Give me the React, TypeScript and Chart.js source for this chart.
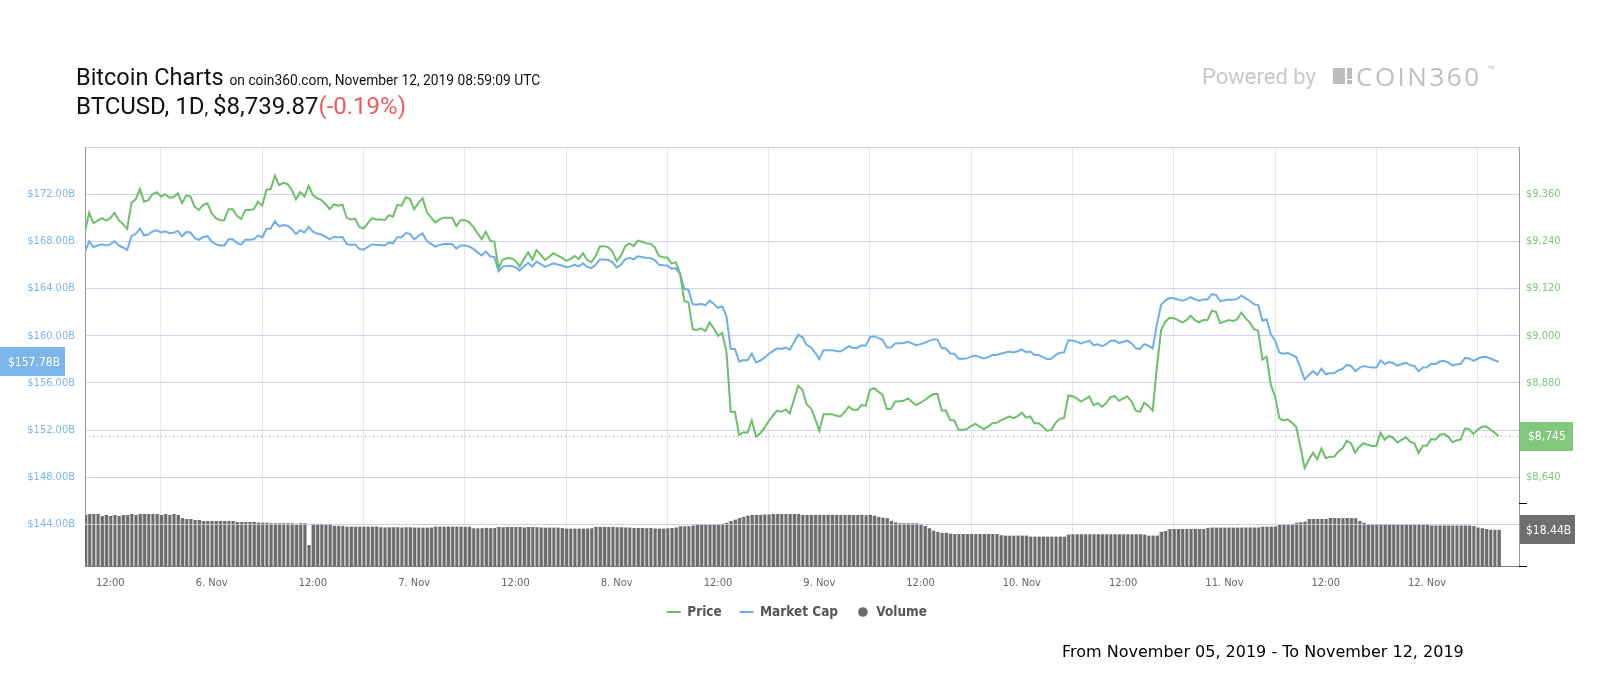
import React, { useEffect, useRef } from 'react';
import { Chart, registerables } from 'chart.js';

Chart.register(...registerables);

// ---- time axis (hours since 5 Nov 2019 00:00) ----
const START_HOUR = 9;
const STEP_HOURS = 0.5;
const X_MIN = 9;
const X_MAX = 178.9;
const X_TICKS = [12, 24, 36, 48, 60, 72, 84, 96, 108, 120, 132, 144, 156, 168];
const X_TICK_LABELS = ['12:00', '6. Nov', '12:00', '7. Nov', '12:00', '8. Nov', '12:00', '9. Nov', '12:00', '10. Nov', '12:00', '11. Nov', '12:00', '12. Nov'];

// ---- value axes ----
const CAP_TICKS = [144, 148, 152, 156, 160, 164, 168, 172, 176];
const CAP_TICK_LABELS = ['$144.00B', '$148.00B', '$152.00B', '$156.00B', '$160.00B', '$164.00B', '$168.00B', '$172.00B', ''];
const CAP_MIN = 140.48;
const CAP_MAX = 176;
const PRICE_TICKS = [8520, 8640, 8760, 8880, 9000, 9120, 9240, 9360, 9480];
const PRICE_TICK_LABELS = ['$8,520', '$8,640', '$8,760', '$8,880', '$9,000', '$9,120', '$9,240', '$9,360', ''];
const PRICE_MIN = 8415;
const PRICE_MAX = 9480;
const VOL_PANE_MAX = 32;      // top of the volume pane (billions)
const VOL_AXIS_MAX = 212.8;   // volume pane covers the lower part of the plot

// ---- series (30-minute samples) ----
const PRICE = [
  9265, 9313, 9286, 9293, 9299, 9293, 9299, 9313, 9294, 9284, 9272, 9338,
  9347, 9373, 9341, 9345, 9360, 9365, 9354, 9360, 9351, 9353, 9362, 9337,
  9357, 9354, 9328, 9320, 9333, 9337, 9312, 9299, 9294, 9294, 9322, 9322,
  9305, 9297, 9320, 9320, 9322, 9341, 9331, 9371, 9373, 9407, 9383, 9389,
  9386, 9371, 9347, 9365, 9354, 9381, 9358, 9350, 9345, 9335, 9322, 9334,
  9331, 9334, 9300, 9296, 9298, 9277, 9273, 9286, 9299, 9296, 9296, 9294,
  9307, 9303, 9333, 9331, 9352, 9348, 9322, 9338, 9350, 9314, 9301, 9288,
  9296, 9300, 9300, 9300, 9279, 9294, 9294, 9289, 9277, 9261, 9246, 9265,
  9242, 9239, 9172, 9194, 9197, 9197, 9191, 9176, 9195, 9212, 9194, 9218,
  9206, 9193, 9201, 9210, 9204, 9199, 9191, 9195, 9203, 9195, 9210, 9193,
  9187, 9203, 9227, 9228, 9225, 9214, 9190, 9203, 9228, 9235, 9228, 9242,
  9239, 9235, 9234, 9225, 9203, 9200, 9199, 9184, 9187, 9159, 9089, 9085,
  9017, 9015, 9019, 9012, 9034, 9019, 9000, 9007, 8960, 8807, 8807, 8748,
  8755, 8754, 8785, 8744, 8752, 8766, 8783, 8797, 8810, 8807, 8813, 8803,
  8838, 8873, 8863, 8826, 8816, 8790, 8759, 8801, 8801, 8801, 8797, 8795,
  8806, 8820, 8812, 8812, 8824, 8822, 8863, 8867, 8858, 8850, 8814, 8814,
  8833, 8834, 8835, 8841, 8832, 8824, 8830, 8837, 8845, 8852, 8852, 8810,
  8810, 8786, 8785, 8761, 8761, 8763, 8771, 8776, 8769, 8763, 8769, 8778,
  8779, 8785, 8790, 8795, 8791, 8796, 8805, 8792, 8795, 8778, 8778, 8769,
  8759, 8761, 8779, 8789, 8791, 8848, 8847, 8841, 8833, 8839, 8846, 8824,
  8829, 8820, 8829, 8844, 8847, 8835, 8841, 8846, 8833, 8810, 8807, 8830,
  8822, 8810, 8922, 9015, 9036, 9046, 9045, 9040, 9034, 9040, 9051, 9040,
  9034, 9040, 9040, 9064, 9061, 9032, 9036, 9040, 9038, 9042, 9059, 9045,
  9034, 9017, 9013, 8940, 8947, 8875, 8847, 8791, 8785, 8788, 8779, 8769,
  8718, 8664, 8685, 8703, 8686, 8714, 8689, 8693, 8693, 8706, 8714, 8733,
  8727, 8703, 8718, 8727, 8723, 8720, 8720, 8754, 8736, 8746, 8740, 8729,
  8736, 8742, 8731, 8727, 8702, 8720, 8721, 8738, 8736, 8748, 8751, 8744,
  8730, 8734, 8737, 8765, 8763, 8751, 8761, 8769, 8770, 8762, 8754, 8745,
];

const MARKET_CAP = [
  167.14, 168.01, 167.52, 167.65, 167.75, 167.65, 167.75, 168.01, 167.66, 167.48, 167.27, 168.46,
  168.62, 169.09, 168.51, 168.58, 168.85, 168.95, 168.75, 168.85, 168.69, 168.73, 168.89, 168.44,
  168.80, 168.75, 168.28, 168.13, 168.37, 168.44, 167.99, 167.75, 167.66, 167.66, 168.17, 168.17,
  167.86, 167.72, 168.13, 168.13, 168.17, 168.51, 168.33, 169.05, 169.09, 169.70, 169.27, 169.38,
  169.32, 169.05, 168.62, 168.95, 168.75, 169.23, 168.82, 168.67, 168.58, 168.40, 168.17, 168.39,
  168.33, 168.39, 167.77, 167.70, 167.74, 167.36, 167.29, 167.52, 167.75, 167.70, 167.70, 167.66,
  167.90, 167.83, 168.37, 168.33, 168.71, 168.64, 168.17, 168.46, 168.67, 168.03, 167.79, 167.56,
  167.70, 167.77, 167.77, 167.77, 167.39, 167.66, 167.66, 167.57, 167.36, 167.07, 166.80, 167.14,
  166.73, 166.67, 165.46, 165.86, 165.91, 165.91, 165.81, 165.54, 165.88, 166.18, 165.86, 166.29,
  166.08, 165.84, 165.99, 166.15, 166.04, 165.95, 165.81, 165.88, 166.02, 165.88, 166.15, 165.84,
  165.73, 166.02, 166.46, 166.47, 166.42, 166.22, 165.79, 166.02, 166.47, 166.60, 166.47, 166.73,
  166.67, 166.60, 166.58, 166.42, 166.02, 165.97, 165.95, 165.68, 165.73, 165.23, 163.97, 163.89,
  162.67, 162.63, 162.70, 162.58, 162.97, 162.70, 162.36, 162.49, 161.64, 158.88, 158.88, 157.81,
  157.94, 157.92, 158.48, 157.74, 157.89, 158.14, 158.45, 158.70, 158.93, 158.88, 158.99, 158.81,
  159.44, 160.07, 159.89, 159.22, 159.04, 158.57, 158.01, 158.77, 158.77, 158.77, 158.70, 158.66,
  158.86, 159.11, 158.97, 158.97, 159.19, 159.15, 159.89, 159.96, 159.80, 159.65, 159.00, 159.00,
  159.35, 159.37, 159.38, 159.49, 159.33, 159.19, 159.29, 159.42, 159.56, 159.69, 159.69, 158.93,
  158.93, 158.50, 158.48, 158.05, 158.05, 158.08, 158.23, 158.32, 158.19, 158.08, 158.19, 158.36,
  158.37, 158.48, 158.57, 158.66, 158.59, 158.68, 158.84, 158.61, 158.66, 158.36, 158.36, 158.19,
  158.01, 158.05, 158.37, 158.55, 158.59, 159.62, 159.60, 159.49, 159.35, 159.46, 159.58, 159.19,
  159.28, 159.11, 159.28, 159.55, 159.60, 159.38, 159.49, 159.58, 159.35, 158.93, 158.88, 159.29,
  159.15, 158.93, 160.95, 162.63, 163.01, 163.19, 163.17, 163.08, 162.97, 163.08, 163.28, 163.08,
  162.97, 163.08, 163.08, 163.52, 163.46, 162.94, 163.01, 163.08, 163.05, 163.12, 163.42, 163.17,
  162.97, 162.67, 162.60, 161.28, 161.40, 160.11, 159.60, 158.59, 158.48, 158.54, 158.37, 158.19,
  157.27, 156.30, 156.68, 157.00, 156.70, 157.20, 156.75, 156.82, 156.82, 157.06, 157.20, 157.54,
  157.44, 157.00, 157.27, 157.44, 157.36, 157.31, 157.31, 157.92, 157.60, 157.78, 157.67, 157.47,
  157.60, 157.71, 157.51, 157.44, 156.98, 157.31, 157.33, 157.63, 157.60, 157.81, 157.87, 157.74,
  157.49, 157.56, 157.62, 158.12, 158.08, 157.87, 158.05, 158.19, 158.21, 158.07, 157.92, 157.78,
];

const VOLUME = [
  25.9, 26.4, 26.4, 26.4, 25.4, 25.9, 25.4, 25.9, 25.4, 25.9, 25.9, 26.4,
  25.9, 26.4, 26.4, 26.4, 26.4, 26.4, 25.9, 26.4, 25.9, 26.4, 25.9, 24.4,
  23.9, 23.9, 23.4, 23.4, 22.9, 22.9, 22.9, 22.9, 22.9, 22.9, 22.9, 22.9,
  22.4, 22.4, 22.4, 22.4, 22.4, 22.1, 22.0, 22.0, 21.7, 21.7, 21.7, 21.7,
  21.7, 21.7, 21.5, 21.7, 21.7, 10.7, 21.5, 21.5, 21.5, 21.3, 21.3, 20.5,
  20.5, 20.4, 20.0, 20.0, 20.0, 20.0, 20.0, 20.0, 20.0, 20.1, 19.7, 19.6,
  19.7, 19.7, 19.7, 19.6, 19.7, 19.7, 19.5, 19.5, 19.5, 19.5, 19.6, 20.0,
  20.0, 20.0, 20.0, 20.0, 20.0, 20.0, 19.9, 20.0, 19.2, 19.2, 19.2, 19.4,
  19.2, 19.3, 19.8, 19.7, 19.8, 19.8, 19.8, 19.8, 19.6, 19.8, 19.8, 19.7,
  19.6, 19.5, 19.5, 19.5, 19.5, 19.3, 19.0, 19.0, 19.0, 19.0, 19.0, 19.1,
  19.2, 19.9, 19.9, 19.9, 19.8, 19.9, 19.7, 19.7, 19.6, 19.5, 19.3, 19.3,
  19.3, 19.2, 19.3, 19.1, 19.0, 19.0, 19.2, 19.3, 19.6, 20.2, 20.2, 20.2,
  20.6, 21.2, 21.2, 21.2, 21.2, 21.2, 21.2, 21.4, 22.0, 22.8, 23.6, 24.4,
  25.0, 25.6, 25.9, 26.0, 26.0, 26.2, 26.2, 26.4, 26.4, 26.4, 26.4, 26.4,
  26.4, 26.4, 26.0, 26.0, 26.0, 26.0, 26.0, 26.0, 26.0, 26.0, 26.0, 26.0,
  26.0, 26.0, 25.9, 25.9, 26.0, 25.8, 26.0, 25.6, 25.0, 24.6, 24.2, 23.0,
  22.2, 21.7, 21.7, 21.7, 21.7, 21.7, 21.4, 20.3, 19.2, 18.0, 17.4, 16.9,
  16.9, 16.5, 16.3, 16.3, 16.3, 16.3, 16.3, 16.3, 16.3, 16.3, 16.3, 16.3,
  16.3, 15.6, 15.5, 15.5, 15.5, 15.5, 15.5, 15.5, 15.0, 15.0, 15.0, 15.0,
  15.0, 15.0, 15.0, 15.0, 15.0, 16.0, 16.1, 16.1, 16.1, 16.1, 16.1, 16.1,
  16.1, 16.1, 16.1, 16.1, 16.1, 16.1, 16.1, 16.1, 16.1, 16.1, 16.1, 16.0,
  15.5, 15.5, 15.5, 17.4, 17.8, 18.8, 18.8, 18.8, 18.8, 18.8, 18.8, 18.9,
  18.8, 18.8, 19.4, 19.5, 19.5, 19.5, 19.5, 19.5, 19.5, 19.5, 19.5, 19.6,
  19.6, 19.6, 19.6, 20.0, 20.0, 20.0, 20.1, 21.0, 21.0, 21.1, 21.3, 22.0,
  22.2, 22.6, 23.9, 23.9, 23.9, 23.9, 23.9, 24.4, 24.4, 24.4, 24.2, 24.4,
  24.4, 24.2, 23.0, 22.0, 21.2, 21.2, 21.2, 21.2, 21.2, 21.2, 21.2, 21.2,
  21.0, 21.2, 21.2, 21.2, 21.2, 21.0, 21.2, 20.6, 20.6, 20.6, 20.6, 20.6,
  20.6, 20.6, 20.6, 20.6, 20.6, 20.3, 19.6, 19.2, 18.8, 18.5, 18.45, 18.44,
];

const TIMES = PRICE.map((_, i) => START_HOUR + i * STEP_HOURS);

// ---- styles ----
const PRICE_COLOR = '#6dbf69';
const CAP_COLOR = '#6faee9';
const VOLUME_COLOR = '#6b6b6b';
const GRID_COLOR = '#ccd6eb';
const AXIS_FONT = "'DejaVu Sans Condensed', 'DejaVu Sans', sans-serif";

function valueBox(ctx: CanvasRenderingContext2D, x: number, w: number, cy: number, fill: string, text: string, tx: number) {
  const h = 29;
  ctx.fillStyle = fill;
  ctx.fillRect(x, Math.round(cy - h / 2), w, h);
  ctx.fillStyle = '#ffffff';
  ctx.font = `12px ${AXIS_FONT}`;
  ctx.textAlign = 'left';
  ctx.textBaseline = 'middle';
  ctx.fillText(text, x + tx, cy + 1);
}

const overlayPlugin = {
  id: 'overlays',
  afterDatasetDraw(chart: any, args: any) {
    if (args.index !== 2) return;
    const { ctx, chartArea, scales } = chart;
    const paneTop = scales.yV.getPixelForValue(VOL_PANE_MAX);
    ctx.save();
    ctx.strokeStyle = 'rgba(204,214,235,0.8)';
    ctx.lineWidth = 1;
    CAP_TICKS.forEach((v) => {
      const py = Math.round(scales.y.getPixelForValue(v)) + 0.5;
      if (py > paneTop && py < chartArea.bottom) {
        ctx.beginPath();
        ctx.moveTo(chartArea.left, py);
        ctx.lineTo(chartArea.right, py);
        ctx.stroke();
      }
    });
    ctx.restore();
  },
  afterDraw(chart: any) {
    const { ctx, chartArea, scales } = chart;
    const lastPrice = PRICE[PRICE.length - 1];
    const lastCap = MARKET_CAP[MARKET_CAP.length - 1];
    const lastVol = VOLUME[VOLUME.length - 1];
    ctx.save();
    // current price guide
    const py = Math.round(scales.yP.getPixelForValue(lastPrice)) + 0.5;
    ctx.strokeStyle = '#8d9aa8';
    ctx.lineWidth = 1;
    ctx.setLineDash([1, 3]);
    ctx.beginPath();
    ctx.moveTo(chartArea.left, py);
    ctx.lineTo(chartArea.right, py);
    ctx.stroke();
    ctx.setLineDash([]);
    // volume pane ticks
    ctx.strokeStyle = '#000000';
    [0, VOL_PANE_MAX].forEach((v) => {
      const y = Math.round(scales.yV.getPixelForValue(v)) + 0.5;
      ctx.beginPath();
      ctx.moveTo(chartArea.right, y);
      ctx.lineTo(chartArea.right + 8, y);
      ctx.stroke();
    });
    // value boxes
    valueBox(ctx, 0, chartArea.left - 20, scales.y.getPixelForValue(lastCap), '#7cb5ec', '$' + lastCap.toFixed(2) + 'B', 8);
    valueBox(ctx, chartArea.right + 1, 53, scales.yP.getPixelForValue(lastPrice), '#82c87c', '$' + lastPrice.toLocaleString('en-US'), 8);
    valueBox(ctx, chartArea.right + 1, 55, scales.yV.getPixelForValue(lastVol), '#6e6e6e', '$' + lastVol.toFixed(2) + 'B', 6);
    ctx.restore();
  },
};

export default function App() {
  const canvasRef = useRef<HTMLCanvasElement | null>(null);

  useEffect(() => {
    const canvas = canvasRef.current;
    if (!canvas) return;
    const dot = document.createElement('canvas');
    dot.width = 10;
    dot.height = 10;
    const dctx = dot.getContext('2d');
    if (dctx) {
      dctx.fillStyle = VOLUME_COLOR;
      dctx.beginPath();
      dctx.arc(5, 5, 4.8, 0, Math.PI * 2);
      dctx.fill();
    }

    const chart = new Chart(canvas, {
      type: 'line',
      data: {
        datasets: [
          {
            type: 'line',
            label: 'Price',
            data: TIMES.map((t, i) => ({ x: t, y: PRICE[i] })),
            yAxisID: 'yP',
            borderColor: PRICE_COLOR,
            backgroundColor: PRICE_COLOR,
            borderWidth: 2,
            pointRadius: 0,
            tension: 0,
            order: 1,
          },
          {
            type: 'line',
            label: 'Market Cap',
            data: TIMES.map((t, i) => ({ x: t, y: MARKET_CAP[i] })),
            yAxisID: 'y',
            borderColor: CAP_COLOR,
            backgroundColor: CAP_COLOR,
            borderWidth: 2,
            pointRadius: 0,
            tension: 0,
            order: 2,
          },
          {
            type: 'bar',
            label: 'Volume',
            data: TIMES.map((t, i) => ({ x: t, y: VOLUME[i] })),
            yAxisID: 'yV',
            backgroundColor: VOLUME_COLOR,
            borderColor: '#cbcbcb',
            borderWidth: { left: 1.5, right: 0, top: 0, bottom: 0 },
            borderSkipped: false,
            barPercentage: 1,
            categoryPercentage: 1,
            order: 3,
          } as any,
        ],
      },
      options: {
        responsive: false,
        animation: false,
        events: [],
        layout: { padding: { top: 147, left: 0, right: 6, bottom: 71.25 } },
        scales: {
          x: {
            type: 'linear',
            min: X_MIN,
            max: X_MAX,
            offset: false,
            afterBuildTicks: (s: any) => { s.ticks = X_TICKS.map((v) => ({ value: v })); },
            afterFit: (s: any) => { s.height = 21.25; },
            ticks: {
              autoSkip: false,
              maxRotation: 0,
              padding: 11,
              color: '#666666',
              font: { family: AXIS_FONT, size: 11 },
              callback: (v: any) => X_TICK_LABELS[X_TICKS.indexOf(Number(v))] ?? '',
            },
            grid: { color: '#e6e6e6', drawTicks: false },
            border: { display: true, color: '#7a7a7a' },
          },
          y: {
            type: 'linear',
            position: 'left',
            min: CAP_MIN,
            max: CAP_MAX,
            afterBuildTicks: (s: any) => { s.ticks = CAP_TICKS.map((v) => ({ value: v })); },
            afterFit: (s: any) => { s.width = 85; },
            ticks: {
              padding: 10,
              color: '#7cb5ec',
              font: { family: AXIS_FONT, size: 11 },
              callback: (v: any) => CAP_TICK_LABELS[CAP_TICKS.indexOf(Number(v))] ?? '',
            },
            grid: { color: GRID_COLOR, drawTicks: false },
            border: { display: true, color: '#9a9a9a' },
          },
          yP: {
            type: 'linear',
            position: 'right',
            min: PRICE_MIN,
            max: PRICE_MAX,
            afterBuildTicks: (s: any) => { s.ticks = PRICE_TICKS.map((v) => ({ value: v })); },
            afterFit: (s: any) => { s.width = 75; },
            ticks: {
              padding: 7,
              color: '#7dc67a',
              font: { family: AXIS_FONT, size: 11 },
              callback: (v: any) => PRICE_TICK_LABELS[PRICE_TICKS.indexOf(Number(v))] ?? '',
            },
            grid: { display: false, drawTicks: false },
            border: { display: true, color: '#9a9a9a' },
          },
          yV: {
            type: 'linear',
            position: 'right',
            display: false,
            min: 0,
            max: VOL_AXIS_MAX,
            grid: { display: false },
          },
        },
        plugins: {
          tooltip: { enabled: false },
          legend: {
            position: 'bottom',
            labels: {
              usePointStyle: true,
              boxHeight: 10,
              padding: 18,
              color: '#555555',
              font: { family: AXIS_FONT, size: 13.5, weight: 'bold' },
              generateLabels: (c: any) =>
                c.data.datasets.map((ds: any, i: number) => ({
                  text: ds.label,
                  fillStyle: ds.backgroundColor,
                  strokeStyle: i === 2 ? VOLUME_COLOR : ds.borderColor,
                  lineWidth: 2,
                  pointStyle: i === 2 ? dot : 'line',
                  hidden: false,
                  datasetIndex: i,
                  fontColor: '#555555',
                })),
            },
          },
        },
      } as any,
      plugins: [overlayPlugin],
    });

    return () => chart.destroy();
  }, []);

  const roboto = "Roboto, 'Noto Sans', sans-serif";
  return (
    <div style={{ position: 'absolute', left: 0, top: 0, width: 1600, height: 700, background: '#ffffff', overflow: 'hidden' }}>
      <canvas ref={canvasRef} width={1600} height={700} style={{ position: 'absolute', left: 0, top: 0 }} />
      <div style={{ position: 'absolute', left: 76, top: 63, fontFamily: roboto, color: '#111111', whiteSpace: 'nowrap' }}>
        <div style={{ fontSize: 23.5, lineHeight: '29px' }}>
          Bitcoin Charts <span style={{ fontSize: 13.8, lineHeight: '16px' }}>on coin360.com, November 12, 2019 08:59:09 UTC</span>
        </div>
        <div style={{ fontSize: 24, lineHeight: '29px' }}>
          BTCUSD, 1D<span style={{ fontSize: 19, lineHeight: '16px' }}>, </span>$8,739.87<span style={{ color: '#f05a5a' }}>(-0.19%)</span>
        </div>
      </div>
      <div style={{ position: 'absolute', left: 1202, top: 64, fontFamily: roboto, fontSize: 22, lineHeight: '26px', color: '#c8c8c8', whiteSpace: 'nowrap' }}>
        Powered by
      </div>
      <div style={{ position: 'absolute', left: 1333, top: 68, width: 12, height: 16, background: '#bdbdbd' }} />
      <div style={{ position: 'absolute', left: 1347, top: 68, width: 5, height: 11, background: '#bdbdbd' }} />
      <div style={{ position: 'absolute', left: 1347, top: 80, width: 5, height: 4, background: '#bdbdbd' }} />
      <div style={{ position: 'absolute', left: 1356, top: 60, fontFamily: "'Open Sans', Roboto, sans-serif", fontWeight: 400, fontSize: 26, lineHeight: '32px', letterSpacing: '2.5px', color: '#bebebe', whiteSpace: 'nowrap' }}>
        COIN360
      </div>
      <div style={{ position: 'absolute', left: 1487, top: 64, fontFamily: roboto, fontSize: 13, lineHeight: '14px', color: '#bebebe' }}>™</div>
      <div style={{ position: 'absolute', left: 1062, top: 642, fontFamily: "'DejaVu Sans', sans-serif", fontSize: 16, lineHeight: '19px', color: '#000000', whiteSpace: 'nowrap' }}>
        From November 05, 2019 - To November 12, 2019
      </div>
    </div>
  );
}
